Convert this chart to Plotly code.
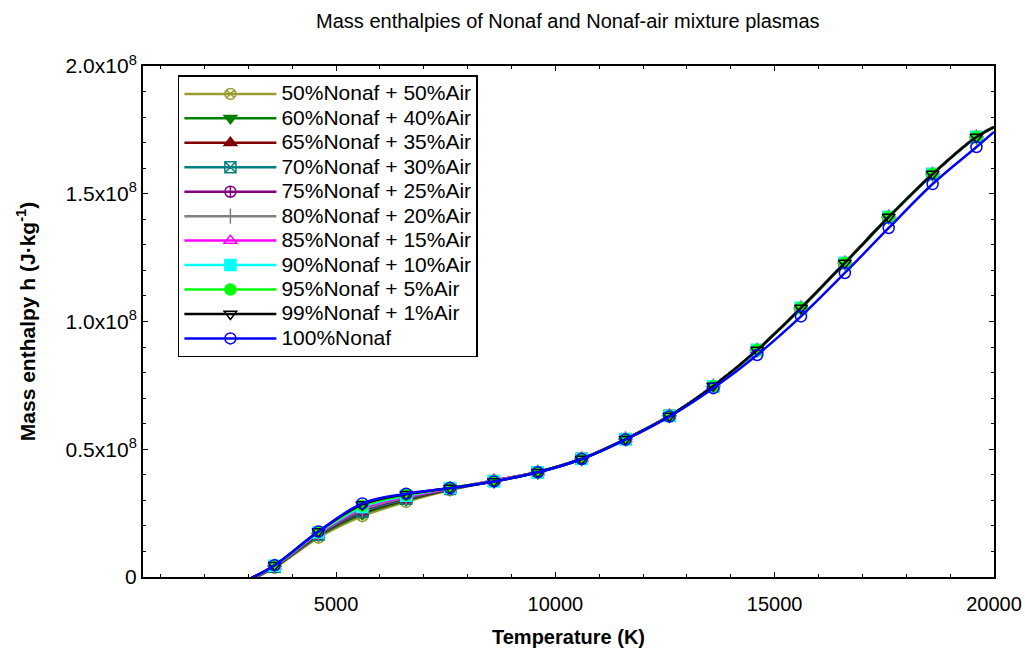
import plotly.graph_objects as go

# Temperature (K)
T = [3000, 3600, 4600, 5600, 6600, 7600, 8600, 9600, 10600, 11600, 12600,
     13600, 14600, 15600, 16600, 17600, 18600, 19600, 20000]

# Mass enthalpy in units of 1e6 J/kg
h50 = [-1.5, 3.6, 15.4, 23.8, 29.4, 34.0, 37.5, 41.1, 46.3, 54.0, 63.1, 74.7, 88.7, 105.2, 122.8, 140.8, 157.6, 172.1, 176.0]
h60 = [-1.4, 3.8, 16.0, 24.6, 30.0, 34.2, 37.6, 41.1, 46.3, 54.0, 63.1, 74.7, 88.8, 105.3, 122.9, 140.9, 157.7, 172.2, 176.1]
h65 = [-1.4, 3.9, 16.3, 25.1, 30.3, 34.3, 37.8, 41.1, 46.3, 54.0, 63.1, 74.8, 88.8, 105.3, 122.9, 141.0, 157.8, 172.3, 176.1]
h70 = [-1.3, 4.0, 16.5, 25.5, 30.6, 34.4, 37.6, 41.0, 46.3, 54.0, 63.1, 74.7, 88.8, 105.3, 122.9, 140.9, 157.7, 172.2, 176.1]
h75 = [-1.3, 4.1, 16.8, 26.0, 30.9, 34.5, 37.7, 41.0, 46.3, 54.0, 63.1, 74.7, 88.8, 105.3, 122.9, 140.9, 157.7, 172.2, 176.1]
h80 = [-1.2, 4.2, 17.0, 26.4, 31.2, 34.6, 37.6, 41.0, 46.3, 54.0, 63.1, 74.7, 88.8, 105.3, 122.9, 140.9, 157.7, 172.2, 176.1]
h85 = [-1.2, 4.3, 17.2, 26.9, 31.5, 34.7, 37.8, 41.0, 46.2, 53.9, 63.0, 74.8, 88.9, 105.4, 123.0, 141.0, 157.8, 172.3, 176.2]
h90 = [-1.1, 4.4, 17.4, 27.4, 31.8, 34.8, 37.5, 41.0, 46.2, 53.9, 63.0, 74.7, 88.8, 105.3, 122.9, 140.9, 157.7, 172.2, 176.1]
h95 = [-1.1, 4.5, 17.6, 27.9, 32.1, 34.8, 37.5, 41.0, 46.2, 53.9, 63.0, 74.7, 88.8, 105.3, 122.9, 140.9, 157.7, 172.2, 176.1]
h99 = [-1.0, 4.6, 17.8, 28.4, 32.4, 34.8, 37.4, 41.0, 46.2, 53.9, 63.0, 74.8, 88.8, 105.3, 122.9, 140.9, 157.7, 172.2, 176.1]
h100 = [-1.0, 4.6, 17.8, 28.8, 32.6, 34.8, 37.4, 41.0, 46.2, 53.8, 62.8, 73.9, 86.9, 102.0, 119.0, 136.6, 153.8, 168.3, 174.2]

names = ["50%Nonaf + 50%Air", "60%Nonaf + 40%Air", "65%Nonaf + 35%Air",
         "70%Nonaf + 30%Air", "75%Nonaf + 25%Air", "80%Nonaf + 20%Air",
         "85%Nonaf + 15%Air", "90%Nonaf + 10%Air", "95%Nonaf + 5%Air",
         "99%Nonaf + 1%Air", "100%Nonaf"]
series = [h50, h60, h65, h70, h75, h80, h85, h90, h95, h99, h100]
colors = ["#9a9a30", "#008000", "#800000", "#008080", "#800080", "#808080",
          "#ff00ff", "#00ffff", "#00ff00", "#000000", "#0000ff"]
symbols = ["circle-x-open", "triangle-down", "triangle-up", "square-x-open",
           "circle-cross-open", "cross-thin-open", "triangle-up-open", "square",
           "circle", "triangle-down-open", "circle-open"]

y_tickvals = [0, 0.5e8, 1.0e8, 1.5e8, 2.0e8]
y_ticktext = ["0", "0.5x10<sup>8</sup>", "1.0x10<sup>8</sup>", "1.5x10<sup>8</sup>", "2.0x10<sup>8</sup>"]
x_tickvals = [5000, 10000, 15000, 20000]
x_ticktext = ["5000", "10000", "15000", "20000"]

FONT = "Liberation Sans, Arial, sans-serif"

fig = go.Figure()
for name, ys, c, s in zip(names, series, colors, symbols):
    yv = [v * 1e6 for v in ys]
    fig.add_trace(go.Scatter(x=T, y=yv, mode="lines", line=dict(color=c, width=2.5, shape="spline"),
                             legendgroup=name, showlegend=False, hoverinfo="skip"))
    fig.add_trace(go.Scatter(x=T[1:-1], y=yv[1:-1], mode="markers",
                             marker=dict(symbol=s, size=11, color=c, line=dict(color=c, width=1.5)),
                             legendgroup=name, showlegend=False, name=name))
    fig.add_trace(go.Scatter(x=[None], y=[None], mode="lines+markers",
                             name='<span style="font-size:21px">' + name + '</span>',
                             line=dict(color=c, width=2.5),
                             marker=dict(symbol=s, size=11, color=c, line=dict(color=c, width=1.5)),
                             legendgroup=name))

axis_common = dict(showline=True, linecolor="black", linewidth=2, mirror="ticks",
                   ticks="inside", ticklen=5, tickcolor="black", tickwidth=1,
                   showgrid=False, zeroline=False, automargin=False)

fig.update_layout(
    width=1025, height=652,
    margin=dict(l=143, r=31, t=66, b=75),
    paper_bgcolor="white", plot_bgcolor="white",
    title=dict(text="Mass enthalpies of Nonaf and Nonaf-air mixture plasmas",
               x=0.554, xanchor="center", y=0.968, yanchor="middle",
               font=dict(family=FONT, size=20, color="black")),
    xaxis=dict(range=[600, 20000], tickvals=x_tickvals, ticktext=x_ticktext,
               ticklabelstandoff=8,
               tickfont=dict(family=FONT, size=20, color="black"),
               minor=dict(dtick=1000, tick0=0, ticks="inside", ticklen=3, tickcolor="black"),
               title=dict(text="<b>Temperature (K)</b>", standoff=16,
                          font=dict(family=FONT, size=20, color="black")),
               **axis_common),
    yaxis=dict(range=[0, 2.0e8], tickvals=y_tickvals, ticktext=y_ticktext,
               tickfont=dict(family=FONT, size=21, color="black"),
               minor=dict(dtick=1e7, tick0=0, ticks="inside", ticklen=3, tickcolor="black"),
               title=dict(text="<b>Mass enthalpy h (J·kg<sup>-1</sup>)</b>", standoff=24,
                          font=dict(family=FONT, size=21, color="black")),
               **axis_common),
    legend=dict(x=0.041, y=0.982, xanchor="left", yanchor="top",
                bgcolor="white", bordercolor="black", borderwidth=1.5,
                font=dict(family=FONT, size=16.5, color="black"),
                itemwidth=92, tracegroupgap=0),
    showlegend=True,
)

fig.write_html("out.html")
